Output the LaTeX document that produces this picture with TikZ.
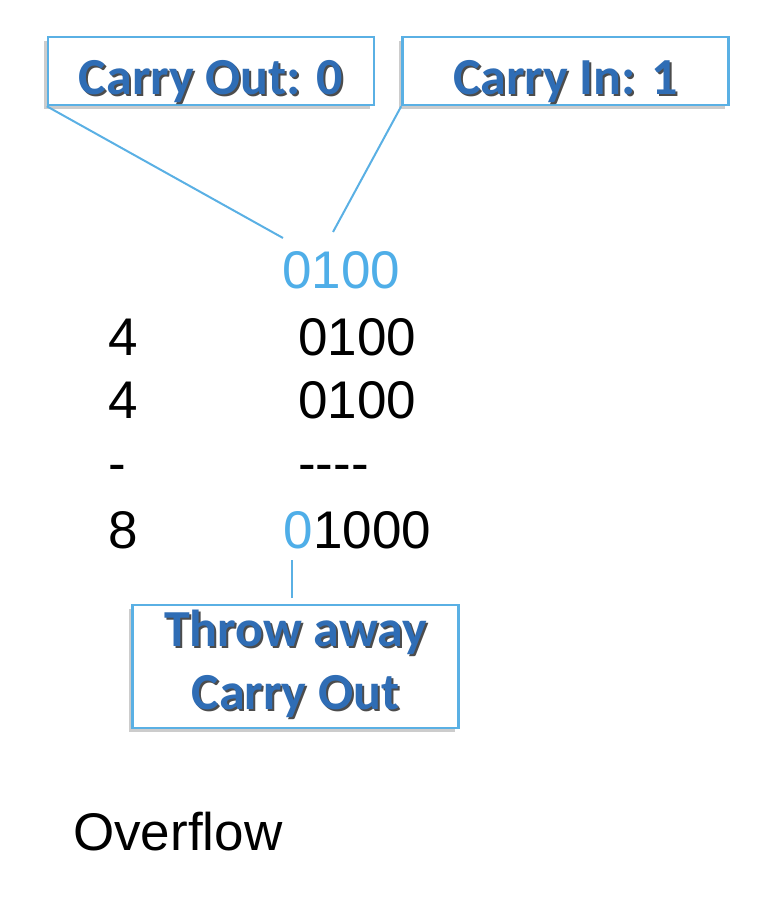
\documentclass[tikz,border=0pt]{standalone}
\usepackage{fontspec}
\setmainfont{Liberation Sans}
\newfontfamily\calloutfont{Carlito}
\usetikzlibrary{positioning,calc,shadows}
\definecolor{callblue}{HTML}{2F6DB5}
\definecolor{lineblue}{HTML}{5AB0E4}
\definecolor{digitblue}{HTML}{4FAEE8}
% text with a dark drop shadow behind it
\newcommand{\shadowed}[1]{\makebox[0pt][l]{\raisebox{-2pt}{\hspace{2pt}\textcolor{black!70}{#1}}}#1}

\begin{document}
\begin{tikzpicture}[x=1pt,y=-1pt,
    callout/.style={
        rectangle, draw=lineblue, fill=white,
        line width=2.5pt, inner sep=0pt,
        minimum width=326pt,
        drop shadow={shadow xshift=-4pt, shadow yshift=-4pt,
                     opacity=0.4, fill=gray}
    },
    calltext/.style={
        font=\calloutfont\bfseries\fontsize{52}{63}\selectfont,
        text=callblue, align=center, inner sep=0pt
    },
    lead/.style={draw=lineblue, line width=2pt},
    digits/.style={font=\fontsize{53}{63}\selectfont, inner sep=0pt, anchor=base west}
  ]
  \useasboundingbox (0,0) rectangle (772,912);

  % callout boxes
  \node[callout, minimum height=68pt] (cout) at (211,71) {};
  \node[calltext, anchor=base] (couttext) at (211,95) {\shadowed{Carry Out: 0}};

  \node[callout, minimum height=68pt] (cin) at (565.5,71) {};
  \node[calltext, anchor=base] (cintext) at (565.5,95) {\shadowed{Carry In: 1}};

  \node[callout, minimum height=123pt] (throw) at (295.5,666.5) {};
  \node[calltext] (throwtext) at (295.5,665) {\shadowed{Throw away}\\\shadowed{Carry Out}};

  % the sum
  \node[digits, text=digitblue] (carries) at (282,288) {0100};
  \node[digits] (deca) at (108,355) {4};
  \node[digits] (bina) at (298,355) {0100};
  \node[digits] (decb) at (108,418) {4};
  \node[digits] (binb) at (298,418) {0100};
  \node[digits] (decbar) at (108,481) {-};
  \node[digits] (binbar) at (298,481) {-{}-{}-{}-};
  \node[digits] (decsum) at (108,548) {8};
  \node[digits, text=digitblue] (sumcarry) at (283,548) {0};
  \node[digits] (sumrest) at (sumcarry.base east) {1000};

  \node[digits] (overflow) at (73,850) {Overflow};

  % leaders
  \coordinate (coutend) at (283,238);
  \coordinate (cinend) at (333,232);
  \coordinate (throwfoot) at (292,598);
  \coordinate (throwtip) at (292,560);
  \draw[lead] (cout.south west) -- (coutend);
  \draw[lead] (cin.south west) -- (cinend);
  \draw[lead] (throwfoot) -- (throwtip);
\end{tikzpicture}
\end{document}
